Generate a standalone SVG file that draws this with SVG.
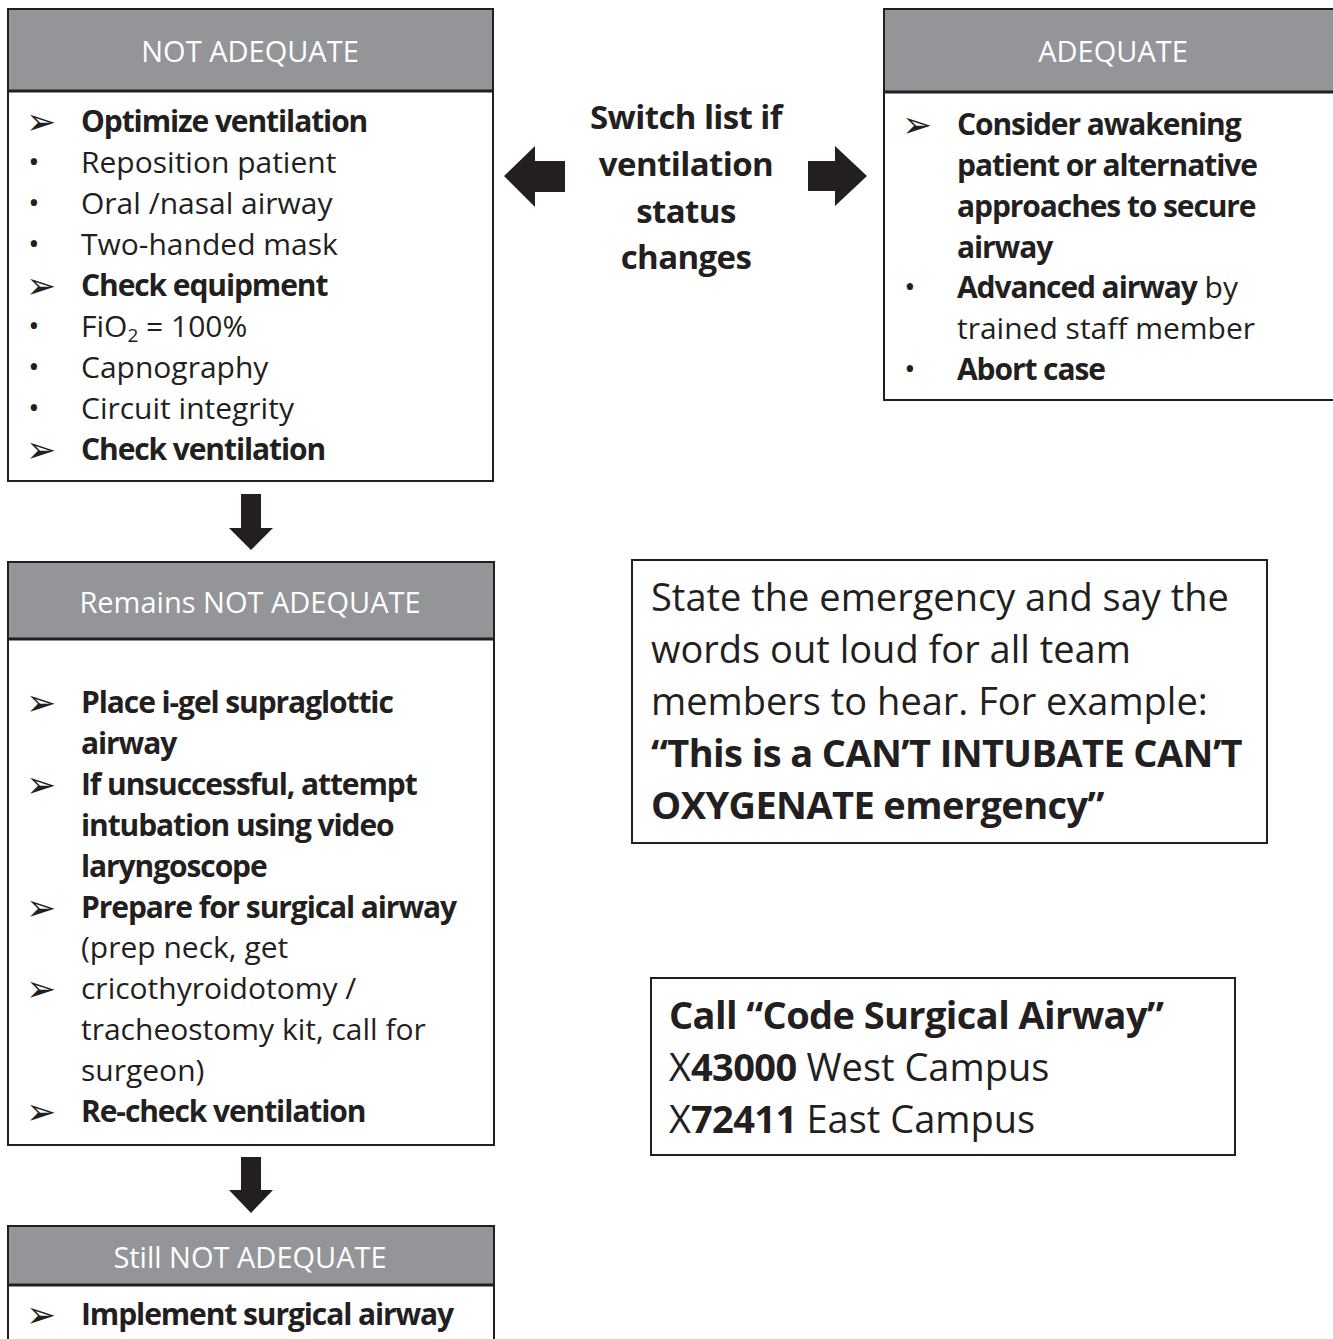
<svg xmlns="http://www.w3.org/2000/svg" width="1333" height="1339" viewBox="0 0 1333 1339">
<style>
text{font-family:"Open Sans","Liberation Sans",sans-serif;fill:#231f20}
.it{font-size:30px}
.b{font-weight:700;letter-spacing:-1.1px}
.bb{font-weight:700;letter-spacing:-0.6px}
.hd{font-size:29px;fill:#ffffff;text-anchor:middle}
.sym{font-family:"DejaVu Sans",sans-serif;font-size:36px}
.dot{font-family:"Open Sans","Liberation Sans",sans-serif;font-size:30px;text-anchor:middle}
.hbox{fill:#939598;stroke:#231f20;stroke-width:2}
.body{fill:#ffffff;stroke:#231f20;stroke-width:2}
.sep{stroke:#231f20;stroke-width:3}
.arr{fill:#231f20}
.big{font-size:38px}
.mid{font-size:33px;font-weight:700;text-anchor:middle;letter-spacing:-0.6px}
</style>
<rect width="1333" height="1339" fill="#ffffff"/>

<g id="not-adequate">
<rect class="body" x="8" y="9" width="485" height="472"/>
<rect class="hbox" x="8" y="9" width="485" height="82"/>
<line class="sep" x1="8" y1="91" x2="493" y2="91"/>
<text class="hd" x="250" y="62">NOT ADEQUATE</text>
<g class="it">
<text class="sym" x="26" y="134">➢</text><text x="81" y="132" class="b">Optimize ventilation</text>
<text class="dot" x="34" y="172">•</text><text x="81" y="173">Reposition patient</text>
<text class="dot" x="34" y="213">•</text><text x="81" y="214">Oral /nasal airway</text>
<text class="dot" x="34" y="254">•</text><text x="81" y="255">Two-handed mask</text>
<text class="sym" x="26" y="298">➢</text><text x="81" y="296" class="b">Check equipment</text>
<text class="dot" x="34" y="336">•</text><text x="81" y="337">FiO<tspan font-size="19px" baseline-shift="-5">2</tspan> = 100%</text>
<text class="dot" x="34" y="377">•</text><text x="81" y="378">Capnography</text>
<text class="dot" x="34" y="418">•</text><text x="81" y="419">Circuit integrity</text>
<text class="sym" x="26" y="462">➢</text><text x="81" y="460" class="b">Check ventilation</text>
</g>
</g>

<g id="adequate">
<rect class="body" x="884" y="9" width="460" height="391"/>
<rect class="hbox" x="884" y="9" width="460" height="83"/>
<line class="sep" x1="884" y1="92" x2="1344" y2="92"/>
<text class="hd" x="1113" y="62">ADEQUATE</text>
<g class="it">
<text class="sym" x="902" y="137">➢</text><text x="957" y="135" class="b">Consider awakening</text>
<text x="957" y="176" class="b">patient or alternative</text>
<text x="957" y="217" class="b">approaches to secure</text>
<text x="957" y="258" class="b">airway</text>
<text class="dot" x="910" y="297">•</text><text x="957" y="298"><tspan class="b">Advanced airway</tspan> by</text>
<text x="957" y="339">trained staff member</text>
<text class="dot" x="910" y="379">•</text><text x="957" y="380" class="b">Abort case</text>
</g>
</g>

<g id="switch-note">
<text class="mid" x="686" y="129">Switch list if</text>
<text class="mid" x="686" y="176">ventilation</text>
<text class="mid" x="686" y="223">status</text>
<text class="mid" x="686" y="269">changes</text>
</g>

<g id="remains-not-adequate">
<rect class="body" x="8" y="562" width="486" height="583"/>
<rect class="hbox" x="8" y="562" width="486" height="77"/>
<line class="sep" x1="8" y1="639" x2="494" y2="639"/>
<text class="hd" x="250" y="613">Remains NOT ADEQUATE</text>
<g class="it">
<text class="sym" x="26" y="715">➢</text><text x="81" y="713" class="b">Place i-gel supraglottic</text>
<text x="81" y="754" class="b">airway</text>
<text class="sym" x="26" y="797">➢</text><text x="81" y="795" class="b">If unsuccessful, attempt</text>
<text x="81" y="836" class="b">intubation using video</text>
<text x="81" y="877" class="b">laryngoscope</text>
<text class="sym" x="26" y="920">➢</text><text x="81" y="918" class="b">Prepare for surgical airway</text>
<text x="81" y="958">(prep neck, get</text>
<text class="sym" x="26" y="1001">➢</text><text x="81" y="999">cricothyroidotomy /</text>
<text x="81" y="1040">tracheostomy kit, call for</text>
<text x="81" y="1081">surgeon)</text>
<text class="sym" x="26" y="1124">➢</text><text x="81" y="1122" class="b">Re-check ventilation</text>
</g>
</g>

<g id="still-not-adequate">
<rect class="body" x="8" y="1226" width="486" height="130"/>
<rect class="hbox" x="8" y="1226" width="486" height="59"/>
<line class="sep" x1="8" y1="1285" x2="494" y2="1285"/>
<text class="hd" x="250" y="1268">Still NOT ADEQUATE</text>
<g class="it">
<text class="sym" x="26" y="1327">➢</text><text x="81" y="1325" class="b">Implement surgical airway</text>
</g>
</g>

<g id="state-emergency">
<rect class="body" x="632" y="560" width="635" height="283"/>
<g class="big">
<text x="651" y="611">State the emergency and say the</text>
<text x="651" y="663">words out loud for all team</text>
<text x="651" y="715">members to hear. For example:</text>
<text x="651" y="767" class="bb">“This is a CAN’T INTUBATE CAN’T</text>
<text x="651" y="819" class="bb">OXYGENATE emergency”</text>
</g>
</g>

<g id="call-code">
<rect class="body" x="651" y="978" width="584" height="177"/>
<g class="big">
<text x="669" y="1029" class="bb">Call “Code Surgical Airway”</text>
<text x="669" y="1081">X<tspan class="bb">43000</tspan> West Campus</text>
<text x="669" y="1133">X<tspan class="bb">72411</tspan> East Campus</text>
</g>
</g>

<g id="connectors">
<polygon class="arr" points="504,176 535,146 535,161 565,161 565,192 535,192 535,207"/>
<polygon class="arr" points="808,161 835,161 835,146 867,176 835,206 835,191 808,191"/>
<polygon class="arr" points="241,494 261,494 261,528 273,528 251,550 229,528 241,528"/>
<polygon class="arr" points="241,1157 261,1157 261,1190 273,1190 251,1213 229,1190 241,1190"/>
</g>
</svg>
